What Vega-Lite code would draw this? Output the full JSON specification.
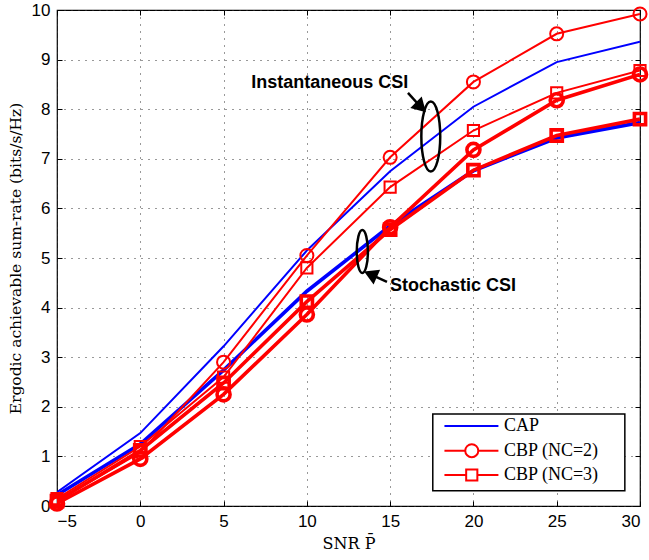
{
  "$schema": "https://vega.github.io/schema/vega-lite/v6.json",
  "autosize": {"type": "none"},
  "width": 583,
  "height": 496,
  "padding": {"left": 57, "top": 10, "right": 9, "bottom": 54},
  "background": "white",
  "config": {
    "view": {"stroke": "black", "strokeWidth": 1.2},
    "axis": {"domain": false, "labelColor": "black", "tickColor": "black", "titleColor": "black"}
  },
  "datasets": {
    "curves": [
      {"snr": -5, "rate": 0.28, "scheme": "CAP", "csi": "Instantaneous", "series": "CAP-I"},
      {"snr": 0, "rate": 1.47, "scheme": "CAP", "csi": "Instantaneous", "series": "CAP-I"},
      {"snr": 5, "rate": 3.22, "scheme": "CAP", "csi": "Instantaneous", "series": "CAP-I"},
      {"snr": 10, "rate": 5.15, "scheme": "CAP", "csi": "Instantaneous", "series": "CAP-I"},
      {"snr": 15, "rate": 6.75, "scheme": "CAP", "csi": "Instantaneous", "series": "CAP-I"},
      {"snr": 20, "rate": 8.05, "scheme": "CAP", "csi": "Instantaneous", "series": "CAP-I"},
      {"snr": 25, "rate": 8.95, "scheme": "CAP", "csi": "Instantaneous", "series": "CAP-I"},
      {"snr": 30, "rate": 9.36, "scheme": "CAP", "csi": "Instantaneous", "series": "CAP-I"},
      {"snr": -5, "rate": 0.22, "scheme": "CAP", "csi": "Stochastic", "series": "CAP-S"},
      {"snr": 0, "rate": 1.25, "scheme": "CAP", "csi": "Stochastic", "series": "CAP-S"},
      {"snr": 5, "rate": 2.74, "scheme": "CAP", "csi": "Stochastic", "series": "CAP-S"},
      {"snr": 10, "rate": 4.33, "scheme": "CAP", "csi": "Stochastic", "series": "CAP-S"},
      {"snr": 15, "rate": 5.65, "scheme": "CAP", "csi": "Stochastic", "series": "CAP-S"},
      {"snr": 20, "rate": 6.76, "scheme": "CAP", "csi": "Stochastic", "series": "CAP-S"},
      {"snr": 25, "rate": 7.42, "scheme": "CAP", "csi": "Stochastic", "series": "CAP-S"},
      {"snr": 30, "rate": 7.73, "scheme": "CAP", "csi": "Stochastic", "series": "CAP-S"},
      {"snr": -5, "rate": 0.1, "scheme": "CBP2", "csi": "Instantaneous", "series": "CBP2-I"},
      {"snr": 0, "rate": 1.08, "scheme": "CBP2", "csi": "Instantaneous", "series": "CBP2-I"},
      {"snr": 5, "rate": 2.9, "scheme": "CBP2", "csi": "Instantaneous", "series": "CBP2-I"},
      {"snr": 10, "rate": 5.05, "scheme": "CBP2", "csi": "Instantaneous", "series": "CBP2-I"},
      {"snr": 15, "rate": 7.03, "scheme": "CBP2", "csi": "Instantaneous", "series": "CBP2-I"},
      {"snr": 20, "rate": 8.55, "scheme": "CBP2", "csi": "Instantaneous", "series": "CBP2-I"},
      {"snr": 25, "rate": 9.52, "scheme": "CBP2", "csi": "Instantaneous", "series": "CBP2-I"},
      {"snr": 30, "rate": 9.92, "scheme": "CBP2", "csi": "Instantaneous", "series": "CBP2-I"},
      {"snr": -5, "rate": 0.05, "scheme": "CBP2", "csi": "Stochastic", "series": "CBP2-S"},
      {"snr": 0, "rate": 0.95, "scheme": "CBP2", "csi": "Stochastic", "series": "CBP2-S"},
      {"snr": 5, "rate": 2.25, "scheme": "CBP2", "csi": "Stochastic", "series": "CBP2-S"},
      {"snr": 10, "rate": 3.86, "scheme": "CBP2", "csi": "Stochastic", "series": "CBP2-S"},
      {"snr": 15, "rate": 5.62, "scheme": "CBP2", "csi": "Stochastic", "series": "CBP2-S"},
      {"snr": 20, "rate": 7.18, "scheme": "CBP2", "csi": "Stochastic", "series": "CBP2-S"},
      {"snr": 25, "rate": 8.18, "scheme": "CBP2", "csi": "Stochastic", "series": "CBP2-S"},
      {"snr": 30, "rate": 8.7, "scheme": "CBP2", "csi": "Stochastic", "series": "CBP2-S"},
      {"snr": -5, "rate": 0.15, "scheme": "CBP3", "csi": "Instantaneous", "series": "CBP3-I"},
      {"snr": 0, "rate": 1.2, "scheme": "CBP3", "csi": "Instantaneous", "series": "CBP3-I"},
      {"snr": 5, "rate": 2.6, "scheme": "CBP3", "csi": "Instantaneous", "series": "CBP3-I"},
      {"snr": 10, "rate": 4.8, "scheme": "CBP3", "csi": "Instantaneous", "series": "CBP3-I"},
      {"snr": 15, "rate": 6.43, "scheme": "CBP3", "csi": "Instantaneous", "series": "CBP3-I"},
      {"snr": 20, "rate": 7.57, "scheme": "CBP3", "csi": "Instantaneous", "series": "CBP3-I"},
      {"snr": 25, "rate": 8.33, "scheme": "CBP3", "csi": "Instantaneous", "series": "CBP3-I"},
      {"snr": 30, "rate": 8.78, "scheme": "CBP3", "csi": "Instantaneous", "series": "CBP3-I"},
      {"snr": -5, "rate": 0.1, "scheme": "CBP3", "csi": "Stochastic", "series": "CBP3-S"},
      {"snr": 0, "rate": 1.12, "scheme": "CBP3", "csi": "Stochastic", "series": "CBP3-S"},
      {"snr": 5, "rate": 2.48, "scheme": "CBP3", "csi": "Stochastic", "series": "CBP3-S"},
      {"snr": 10, "rate": 4.12, "scheme": "CBP3", "csi": "Stochastic", "series": "CBP3-S"},
      {"snr": 15, "rate": 5.57, "scheme": "CBP3", "csi": "Stochastic", "series": "CBP3-S"},
      {"snr": 20, "rate": 6.77, "scheme": "CBP3", "csi": "Stochastic", "series": "CBP3-S"},
      {"snr": 25, "rate": 7.47, "scheme": "CBP3", "csi": "Stochastic", "series": "CBP3-S"},
      {"snr": 30, "rate": 7.8, "scheme": "CBP3", "csi": "Stochastic", "series": "CBP3-S"}
    ],
    "labels": [
      {"snr": 11.37, "rate": 8.53, "label": "Instantaneous CSI"},
      {"snr": 18.77, "rate": 4.44, "label": "Stochastic CSI"}
    ],
    "ellipseInst": [{"snr": 17.44, "rate": 7.45}],
    "ellipseStoch": [{"snr": 13.33, "rate": 5.13}],
    "arrowInst": [{"snr": 16.07, "rate": 8.33, "snr2": 16.85, "rate2": 8.04}],
    "arrowStoch": [{"snr": 14.81, "rate": 4.52, "snr2": 13.82, "rate2": 4.67}],
    "legendBox": [{"snr": 17.56, "snr2": 29.09, "rate": 0.308, "rate2": 1.855}],
    "legendEntries": [
      {"snr": 18.26, "snr2": 21.5, "mid": 19.9, "rate": 1.613, "text": 21.84, "label": "CAP", "scheme": "CAP"},
      {"snr": 18.26, "snr2": 21.5, "mid": 19.9, "rate": 1.115, "text": 21.84, "label": "CBP (NC=2)", "scheme": "CBP2"},
      {"snr": 18.26, "snr2": 21.5, "mid": 19.9, "rate": 0.625, "text": 21.84, "label": "CBP (NC=3)", "scheme": "CBP3"}
    ]
  },
  "layer": [
    {
      "layer": [
        {
          "data": {"name": "curves"},
          "mark": {"type": "line", "clip": true},
          "encoding": {
            "x": {"field": "snr", "type": "quantitative",
              "scale": {"domain": [-5, 30], "nice": false, "zero": false},
              "axis": {"title": "SNR P\u0304", "titleFont": "DejaVu Serif", "titleFontSize": 16, "titleFontWeight": "normal", "titlePadding": 6,
                "values": [-5, 0, 5, 10, 15, 20, 25, 30], "labelFont": "Liberation Sans", "labelFontSize": 17, "labelPadding": 12,
                "tickSize": -5, "grid": true, "gridDash": [1, 6], "gridColor": "#333333", "gridWidth": 1}},
            "y": {"field": "rate", "type": "quantitative",
              "scale": {"domain": [0, 10], "nice": false, "zero": true},
              "axis": {"title": "Ergodic achievable sum-rate (bits/s/Hz)", "titleFont": "DejaVu Serif", "titleFontSize": 15.5, "titleFontWeight": "normal", "titlePadding": 8,
                "values": [0, 1, 2, 3, 4, 5, 6, 7, 8, 9, 10], "labelFont": "Liberation Sans", "labelFontSize": 17, "labelPadding": 12,
                "tickSize": -5, "grid": true, "gridDash": [1, 6], "gridColor": "#333333", "gridWidth": 1}},
            "color": {"field": "scheme", "type": "nominal", "scale": {"domain": ["CAP", "CBP2", "CBP3"], "range": ["#0000ff", "#ff0000", "#ff0000"]}, "legend": null},
            "strokeWidth": {"field": "csi", "type": "nominal", "scale": {"domain": ["Instantaneous", "Stochastic"], "range": [2, 3.6]}, "legend": null},
            "detail": {"field": "series"}
          }
        },
        {
          "data": {"name": "curves"},
          "transform": [{"filter": "datum.scheme !== 'CAP'"}],
          "mark": {"type": "point", "filled": false, "opacity": 1, "clip": false},
          "encoding": {
            "x": {"field": "snr", "type": "quantitative"},
            "y": {"field": "rate", "type": "quantitative"},
            "color": {"field": "scheme", "type": "nominal", "legend": null},
            "shape": {"field": "scheme", "type": "nominal", "scale": {"domain": ["CBP2", "CBP3"], "range": ["circle", "square"]}, "legend": null},
            "size": {"field": "scheme", "type": "nominal", "scale": {"domain": ["CBP2", "CBP3"], "range": [170, 125]}, "legend": null},
            "strokeWidth": {"field": "csi", "type": "nominal", "legend": null}
          }
        },
        {
          "data": {"name": "labels"},
          "mark": {"type": "text", "font": "Liberation Sans", "fontWeight": "bold", "fontSize": 18, "align": "center", "baseline": "middle", "color": "black"},
          "encoding": {
            "x": {"field": "snr", "type": "quantitative"},
            "y": {"field": "rate", "type": "quantitative"},
            "text": {"field": "label"}
          }
        },
        {
          "data": {"name": "ellipseInst"},
          "mark": {"type": "point", "filled": false, "color": "black", "strokeWidth": 2.5, "opacity": 1, "size": 4900,
            "shape": "M0,-1C0.15,-1 0.27,-0.552 0.27,0C0.27,0.552 0.15,1 0,1C-0.15,1 -0.27,0.552 -0.27,0C-0.27,-0.552 -0.15,-1 0,-1Z"},
          "encoding": {
            "x": {"field": "snr", "type": "quantitative"},
            "y": {"field": "rate", "type": "quantitative"}
          }
        },
        {
          "data": {"name": "ellipseStoch"},
          "mark": {"type": "point", "filled": false, "color": "black", "strokeWidth": 2.5, "opacity": 1, "size": 1850,
            "shape": "M0,-1C0.14,-1 0.26,-0.552 0.26,0C0.26,0.552 0.14,1 0,1C-0.14,1 -0.26,0.552 -0.26,0C-0.26,-0.552 -0.14,-1 0,-1Z"},
          "encoding": {
            "x": {"field": "snr", "type": "quantitative"},
            "y": {"field": "rate", "type": "quantitative"}
          }
        },
        {
          "data": {"name": "arrowInst"},
          "mark": {"type": "rule", "color": "black", "strokeWidth": 2.5},
          "encoding": {
            "x": {"field": "snr", "type": "quantitative"},
            "y": {"field": "rate", "type": "quantitative"},
            "x2": {"field": "snr2"},
            "y2": {"field": "rate2"}
          }
        },
        {
          "data": {"name": "arrowInst"},
          "mark": {"type": "point", "shape": "triangle-right", "filled": true, "color": "black", "opacity": 1, "angle": 45, "size": 260},
          "encoding": {
            "x": {"field": "snr2", "type": "quantitative"},
            "y": {"field": "rate2", "type": "quantitative"}
          }
        },
        {
          "data": {"name": "arrowStoch"},
          "mark": {"type": "rule", "color": "black", "strokeWidth": 2.5},
          "encoding": {
            "x": {"field": "snr", "type": "quantitative"},
            "y": {"field": "rate", "type": "quantitative"},
            "x2": {"field": "snr2"},
            "y2": {"field": "rate2"}
          }
        },
        {
          "data": {"name": "arrowStoch"},
          "mark": {"type": "point", "shape": "triangle-right", "filled": true, "color": "black", "opacity": 1, "angle": 204, "size": 260},
          "encoding": {
            "x": {"field": "snr2", "type": "quantitative"},
            "y": {"field": "rate2", "type": "quantitative"}
          }
        },
        {
          "data": {"name": "legendBox"},
          "mark": {"type": "rect", "fill": "white", "stroke": "black", "strokeWidth": 1.5},
          "encoding": {
            "x": {"field": "snr", "type": "quantitative"},
            "x2": {"field": "snr2"},
            "y": {"field": "rate", "type": "quantitative"},
            "y2": {"field": "rate2"}
          }
        },
        {
          "data": {"name": "legendEntries"},
          "mark": {"type": "rule", "strokeWidth": 2},
          "encoding": {
            "x": {"field": "snr", "type": "quantitative"},
            "x2": {"field": "snr2"},
            "y": {"field": "rate", "type": "quantitative"},
            "color": {"field": "scheme", "type": "nominal", "legend": null}
          }
        },
        {
          "data": {"name": "legendEntries"},
          "transform": [{"filter": "datum.scheme !== 'CAP'"}],
          "mark": {"type": "point", "filled": false, "opacity": 1, "strokeWidth": 2, "fill": "white", "fillOpacity": 1},
          "encoding": {
            "x": {"field": "mid", "type": "quantitative"},
            "y": {"field": "rate", "type": "quantitative"},
            "color": {"field": "scheme", "type": "nominal", "legend": null},
            "shape": {"field": "scheme", "type": "nominal", "legend": null},
            "size": {"field": "scheme", "type": "nominal", "legend": null}
          }
        },
        {
          "data": {"name": "legendEntries"},
          "mark": {"type": "text", "font": "Liberation Serif", "fontSize": 18, "align": "left", "baseline": "middle", "color": "black"},
          "encoding": {
            "x": {"field": "text", "type": "quantitative"},
            "y": {"field": "rate", "type": "quantitative"},
            "text": {"field": "label"}
          }
        }
      ]
    },
    {
      "data": {"name": "labels"},
      "mark": {"type": "point", "opacity": 0},
      "encoding": {
        "x": {"field": "snr", "type": "quantitative",
          "axis": {"orient": "top", "title": null, "labels": false, "grid": false, "domain": false, "tickSize": -5, "values": [-5, 0, 5, 10, 15, 20, 25, 30]}},
        "y": {"field": "rate", "type": "quantitative",
          "axis": {"orient": "right", "title": null, "labels": false, "grid": false, "domain": false, "tickSize": -5, "values": [0, 1, 2, 3, 4, 5, 6, 7, 8, 9, 10]}}
      }
    }
  ],
  "resolve": {"axis": {"x": "independent", "y": "independent"}}
}
